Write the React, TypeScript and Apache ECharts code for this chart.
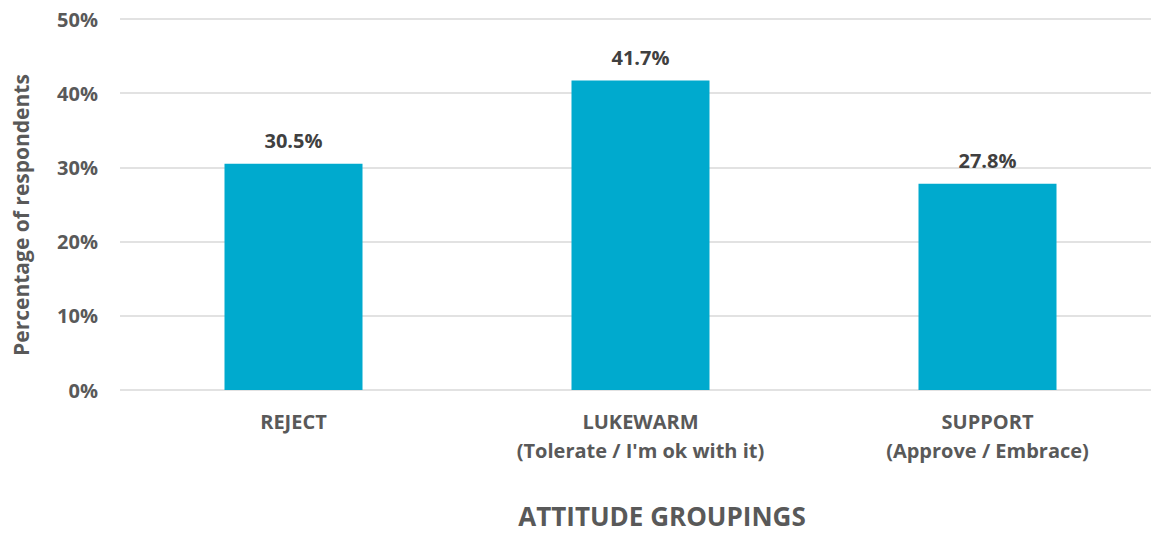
import React, { useEffect, useRef } from "react";
import * as echarts from "echarts";

const categories = ["REJECT", "LUKEWARM\n(Tolerate / I'm ok with it)", "SUPPORT\n(Approve / Embrace)"];
const values = [30.5, 41.7, 27.8];
const yTicks = [0, 10, 20, 30, 40, 50];
const yAxisTitle = "Percentage of respondents";
const xAxisTitle = "ATTITUDE GROUPINGS";

const FONT = "'Open Sans', 'Noto Sans', sans-serif";

export default function App() {
  const ref = useRef<HTMLDivElement>(null);
  useEffect(() => {
    const chart = echarts.init(ref.current!, null, { renderer: "svg" });
    chart.setOption({
      animation: false,
      backgroundColor: "#ffffff",
      grid: { left: 120, right: 0, top: 19, bottom: 143, containLabel: false },
      xAxis: {
        type: "category",
        data: categories,
        axisLine: { show: false },
        axisTick: { show: false },
        axisLabel: {
          color: "#595959",
          fontFamily: FONT,
          fontWeight: "bold",
          fontSize: 20,
          lineHeight: 29,
          margin: 17,
          interval: 0,
        },
      },
      yAxis: {
        type: "value",
        min: yTicks[0],
        max: yTicks[yTicks.length - 1],
        interval: 10,
        axisLine: { show: false },
        axisTick: { show: false },
        splitLine: { lineStyle: { color: "#D9D9D9", width: 1.5 } },
        axisLabel: {
          color: "#595959",
          fontFamily: FONT,
          fontWeight: "bold",
          fontSize: 20,
          margin: 22,
          formatter: (v: number) => v + "%",
        },
      },
      series: [
        {
          type: "bar",
          data: values,
          barWidth: 138,
          itemStyle: { color: "#00AACE" },
          label: {
            show: true,
            position: "top",
            distance: 13,
            color: "#404040",
            fontFamily: FONT,
            fontWeight: "bold",
            fontSize: 20,
            formatter: (p: any) => p.value.toFixed(1) + "%",
          },
        },
      ],
      graphic: [
        {
          type: "text",
          x: 21,
          y: 215,
          rotation: Math.PI / 2,
          style: {
            text: yAxisTitle,
            fill: "#595959",
            font: `bold 21px ${FONT}`,
            align: "center",
            verticalAlign: "middle",
          },
        },
        {
          type: "text",
          x: 662,
          y: 516,
          style: {
            text: xAxisTitle,
            fill: "#595959",
            font: `bold 26px ${FONT}`,
            align: "center",
            verticalAlign: "middle",
          },
        },
      ],
    });
    return () => chart.dispose();
  }, []);
  return (
    <div
      ref={ref}
      style={{ position: "fixed", left: 0, top: 0, width: 1161, height: 533 }}
    />
  );
}
